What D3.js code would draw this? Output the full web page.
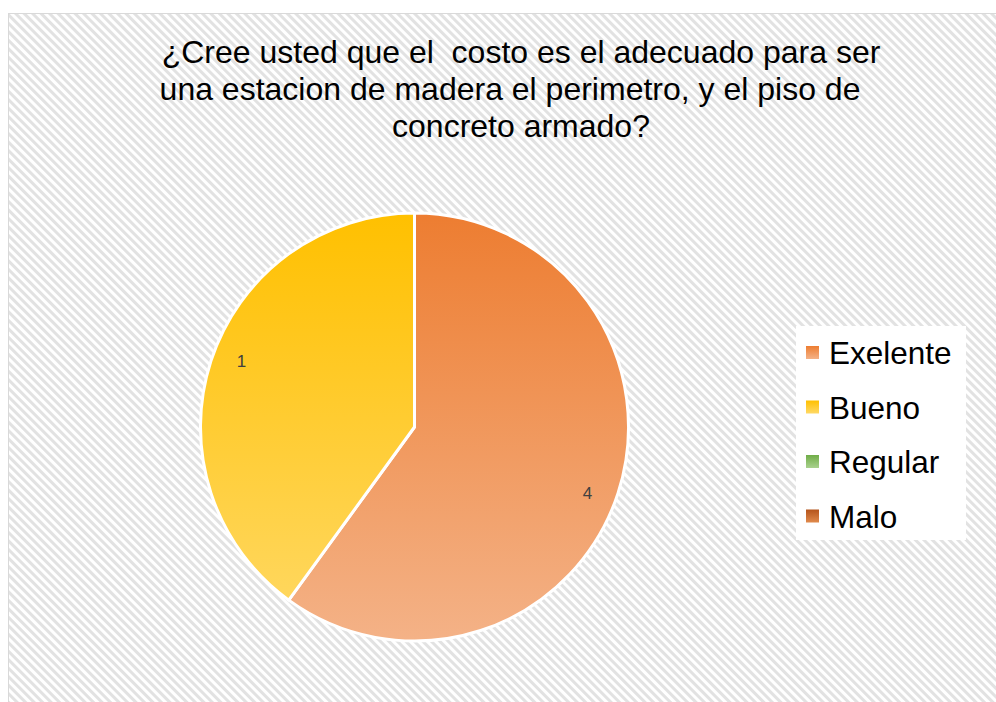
<!DOCTYPE html>
<html>
<head>
<meta charset="utf-8">
<script src="https://cdn.jsdelivr.net/npm/d3@7"></script>
<style>
  html, body { margin: 0; padding: 0; background: #fff; }
  svg { display: block; }
  text { font-family: "Liberation Sans", Arial, sans-serif; white-space: pre; }
</style>
</head>
<body>
<svg id="chart" width="996" height="702"></svg>
<script>
// ---- data ----
const titleLines = [
  "¿Cree usted que el  costo es el adecuado para ser",
  "una estacion de madera el perimetro, y el piso de",
  "concreto armado?"
];
const categories = ["Exelente", "Bueno", "Regular", "Malo"];
const sliceShares = [60, 40, 0, 0];        // share of the pie as drawn
const dataLabels = ["4", "1", "", ""];       // labels printed on slices
const colorsTop = ["#ED7D31", "#FFC000", "#70AD47", "#B4531A"];
const colorsBottom = ["#F4B287", "#FFD966", "#A9D18E", "#E08A4C"];

// ---- layout ----
const W = 996, H = 702;
const svg = d3.select("#chart");
const defs = svg.append("defs");

// diagonal hatch background
const pat = defs.append("pattern")
  .attr("id", "hatch").attr("patternUnits", "userSpaceOnUse")
  .attr("width", 6).attr("height", 6)
  .attr("patternTransform", "rotate(-45)");
pat.append("rect").attr("width", 6).attr("height", 6).attr("fill", "#ffffff");
pat.append("rect").attr("width", 3).attr("height", 6).attr("fill", "#e2e2e2");

svg.append("rect").attr("x", 8.5).attr("y", 13.5).attr("width", W).attr("height", H)
  .attr("fill", "url(#hatch)").attr("stroke", "#d9d9d9").attr("stroke-width", 1);

// title
const titleX = [521, 510, 521];
const title = svg.append("text").attr("text-anchor", "middle")
  .attr("font-size", 32).attr("fill", "#000");
titleLines.forEach((t, i) => {
  title.append("tspan").attr("x", titleX[i]).attr("y", 63 + i * 37).text(t);
});

// pie
const cx = 414.5, cy = 427, R = 214;
const pie = d3.pie().sort(null).value(d => d.v).startAngle(0).endAngle(2 * Math.PI);
const rows = categories.map((c, i) => ({ c, v: sliceShares[i], label: dataLabels[i], i }));
const arcs = pie(rows);
const arc = d3.arc().innerRadius(0).outerRadius(R);
const labelArc = d3.arc().innerRadius(R * 0.865).outerRadius(R * 0.865);

categories.forEach((c, i) => {
  const g = defs.append("linearGradient").attr("id", "grad" + i)
    .attr("gradientUnits", "userSpaceOnUse")
    .attr("x1", 0).attr("y1", -R).attr("x2", 0).attr("y2", R);
  g.append("stop").attr("offset", 0).attr("stop-color", colorsTop[i]);
  g.append("stop").attr("offset", 1).attr("stop-color", colorsBottom[i]);
  const lg = defs.append("linearGradient").attr("id", "lgrad" + i)
    .attr("x1", 0).attr("y1", 0).attr("x2", 0).attr("y2", 1);
  lg.append("stop").attr("offset", 0).attr("stop-color", colorsTop[i]);
  lg.append("stop").attr("offset", 1).attr("stop-color", colorsBottom[i]);
});

const pg = svg.append("g").attr("transform", `translate(${cx},${cy})`);
pg.selectAll("path").data(arcs.filter(d => d.data.v > 0)).join("path")
  .attr("d", arc)
  .attr("fill", d => `url(#grad${d.data.i})`)
  .attr("stroke", "#fff").attr("stroke-width", 3).attr("stroke-linejoin", "round");

pg.selectAll("text.lbl").data(arcs.filter(d => d.data.v > 0)).join("text")
  .attr("class", "lbl")
  .attr("transform", d => {
    const a = (d.startAngle + d.endAngle) / 2 + 0.05;
    const r = R * 0.865;
    return `translate(${r * Math.sin(a)},${-r * Math.cos(a)})`;
  })
  .attr("text-anchor", "middle").attr("dy", "0.35em")
  .attr("font-size", 17).attr("fill", "#404040")
  .text(d => d.data.label);

// legend
svg.append("rect").attr("x", 796).attr("y", 326).attr("width", 170).attr("height", 214).attr("fill", "#fff");
const lgd = svg.append("g");
categories.forEach((c, i) => {
  const y = 353 + i * 54.5;
  lgd.append("rect").attr("x", 806).attr("y", y - 7).attr("width", 13).attr("height", 13)
    .attr("fill", `url(#lgrad${i})`);
  lgd.append("text").attr("x", 829).attr("y", y).attr("dy", "0.36em")
    .attr("font-size", 31.5).attr("fill", "#000").text(c);
});
</script>
</body>
</html>
